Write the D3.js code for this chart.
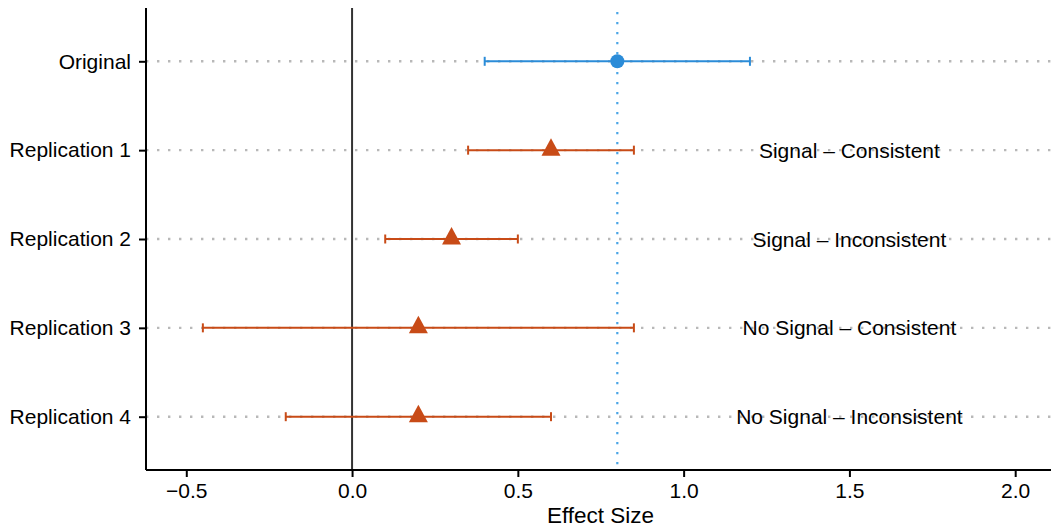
<!DOCTYPE html>
<html>
<head>
<meta charset="utf-8">
<script src="https://cdn.jsdelivr.net/npm/d3@7"></script>
<style>
  body { margin: 0; background: #fff; }
  svg { display: block; font-family: "Liberation Sans", Arial, sans-serif; }
</style>
</head>
<body>
<svg id="chart" width="1051" height="531"></svg>
<script>
// Studies, point estimates and confidence limits
const studies   = ["Original", "Replication 1", "Replication 2", "Replication 3", "Replication 4"];
const estimates = [0.8, 0.6, 0.3, 0.2, 0.2];
const lowerCI   = [0.4, 0.35, 0.1, -0.45, -0.2];
const upperCI   = [1.2, 0.85, 0.5, 0.85, 0.6];
const verdicts  = ["", "Signal \u2013 Consistent", "Signal \u2013 Inconsistent",
                   "No Signal \u2013 Consistent", "No Signal \u2013 Inconsistent"];
const xTicks    = [-0.5, 0, 0.5, 1, 1.5, 2];
const originalEffect = 0.8;
const verdictX  = 1.5;

const W = 1051, H = 531;
const margin = { left: 146, right: 0, top: 8, bottom: 61 };
const svg = d3.select("#chart");

const x = d3.scaleLinear().domain([-0.6215, 2.108]).range([margin.left, W - margin.right]);
const y = d3.scalePoint().domain(studies).range([margin.top, H - margin.bottom]).padding(0.6);

const blue = "#2b8cd8";
const orange = "#c84b17";

// dotted horizontal guides per study
svg.append("g").selectAll("line").data(studies).join("line")
  .attr("x1", margin.left).attr("x2", W)
  .attr("y1", d => y(d)).attr("y2", d => y(d))
  .attr("stroke", "#b8b8b8").attr("stroke-width", 2.4)
  .attr("stroke-dasharray", "2.4,8.6");

// reference lines: null effect and original effect
svg.append("line")
  .attr("x1", x(0)).attr("x2", x(0))
  .attr("y1", margin.top).attr("y2", H - margin.bottom)
  .attr("stroke", "#333").attr("stroke-width", 2);
svg.append("line")
  .attr("x1", x(originalEffect)).attr("x2", x(originalEffect))
  .attr("y1", margin.top + 4).attr("y2", H - margin.bottom)
  .attr("stroke", "#4aa5e6").attr("stroke-width", 2.2)
  .attr("stroke-dasharray", "2.2,7.8");

// verdict labels
svg.append("g").selectAll("text").data(studies.slice(1)).join("text")
  .attr("x", x(verdictX)).attr("y", d => y(d))
  .attr("dy", "0.36em")
  .attr("text-anchor", "middle")
  .attr("font-size", 21).attr("fill", "#000")
  .text((d, i) => verdicts[i + 1]);

// error bars
const rows = studies.map((s, i) => ({ s, est: estimates[i], lo: lowerCI[i], hi: upperCI[i], col: i === 0 ? blue : orange }));
const eb = svg.append("g").selectAll("g").data(rows).join("g");
eb.append("line")
  .attr("x1", d => x(d.lo)).attr("x2", d => x(d.hi))
  .attr("y1", d => y(d.s)).attr("y2", d => y(d.s))
  .attr("stroke", d => d.col).attr("stroke-width", 2);
eb.append("line")
  .attr("x1", d => x(d.lo)).attr("x2", d => x(d.lo))
  .attr("y1", d => y(d.s) - 4.5).attr("y2", d => y(d.s) + 4.5)
  .attr("stroke", d => d.col).attr("stroke-width", 2);
eb.append("line")
  .attr("x1", d => x(d.hi)).attr("x2", d => x(d.hi))
  .attr("y1", d => y(d.s) - 4.5).attr("y2", d => y(d.s) + 4.5)
  .attr("stroke", d => d.col).attr("stroke-width", 2);

// point estimates: circle for original, triangles for replications
eb.filter((d, i) => i === 0).append("circle")
  .attr("cx", d => x(d.est)).attr("cy", d => y(d.s)).attr("r", 7)
  .attr("fill", blue);
eb.filter((d, i) => i > 0).append("path")
  .attr("transform", d => `translate(${x(d.est)},${y(d.s)})`)
  .attr("d", "M0,-12 L9.5,5.5 L-9.5,5.5 Z")
  .attr("fill", orange);

// axes
const yAxis = svg.append("g")
  .attr("transform", `translate(${margin.left},0)`)
  .call(d3.axisLeft(y).tickSize(7).tickPadding(8));
const xAxis = svg.append("g")
  .attr("transform", `translate(0,${H - margin.bottom})`)
  .call(d3.axisBottom(x).tickValues(xTicks).tickSize(7).tickPadding(6)
    .tickFormat(d => d3.format(".1f")(d).replace("-", "\u2212")));
[yAxis, xAxis].forEach(a => {
  a.select(".domain").attr("stroke", "#000").attr("stroke-width", 2);
  a.selectAll(".tick line").attr("stroke", "#000").attr("stroke-width", 2);
  a.selectAll(".tick text").attr("fill", "#000").attr("font-size", 21)
    .attr("font-family", "Liberation Sans, Arial, sans-serif");
});
yAxis.select(".domain").attr("d", `M0,${margin.top}V${H - margin.bottom}`);
xAxis.select(".domain").attr("d", `M${margin.left},0H${W}`);

// axis title
svg.append("text")
  .attr("x", (margin.left + W) / 2 + 2).attr("y", 523)
  .attr("text-anchor", "middle")
  .attr("font-size", 22.5).attr("fill", "#000")
  .text("Effect Size");
</script>
</body>
</html>
